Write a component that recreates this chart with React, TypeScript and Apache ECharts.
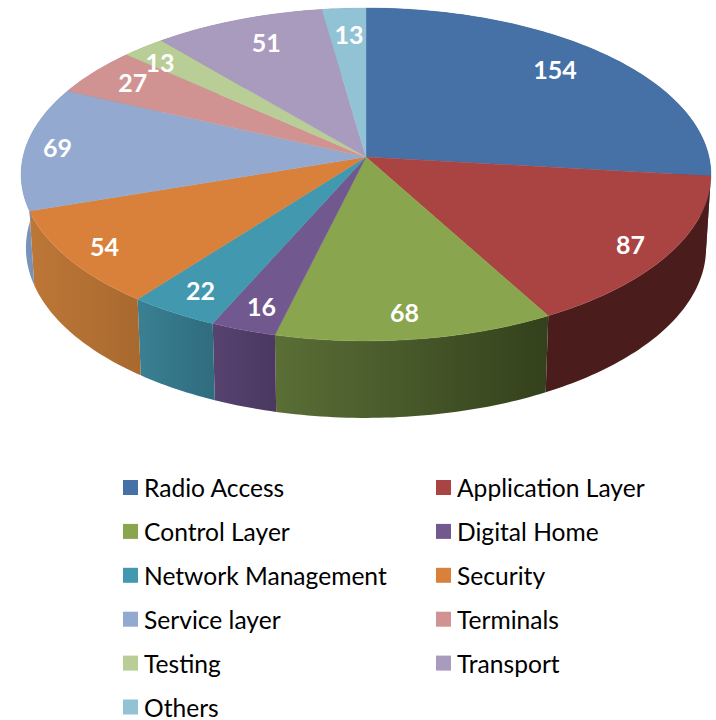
import React, { useEffect, useRef } from "react";
import * as echarts from "echarts";

const categories = ["Radio Access", "Application Layer", "Control Layer", "Digital Home", "Network Management", "Security", "Service layer", "Terminals", "Testing", "Transport", "Others"];
const values = [154, 87, 68, 16, 22, 54, 69, 27, 13, 51, 13];
const topColors = ["#4571a7", "#a94442", "#89a54e", "#71588f", "#4198af", "#d9813b", "#93a9cf", "#d19392", "#b9cd96", "#a99bbd", "#92c3d4"];
const wallFrom = ["#2f4e74", "#4a1c1b", "#5a6e36", "#574270", "#3a8093", "#bd7737", "#7a91b8", "#a57170", "#8c9c70", "#80758f", "#6f94a1"];
const wallTo = ["#2f4e74", "#4a1c1b", "#33411c", "#4a3860", "#2f6c7e", "#a8692f", "#7a91b8", "#a57170", "#8c9c70", "#80758f", "#6f94a1"];
const labelNudgeX = [-8, 6, -5, 2, 1, -7, -23, -9, -23, 5, 1];
const labelNudgeY = [-4, 4, -3, -1, -1, 2, -2, -5, -5, -3, -2];
const leftLegend = categories.filter((_, i) => i % 2 === 0);
const rightLegend = categories.filter((_, i) => i % 2 === 1);

const total = values.reduce((a, b) => a + b, 0);
const CX = 366, CY = 157, RX = 343, RY = 164.6, K = 0.105;
const DEPTH = 73, DEPTH_V = 4, BOTTOM_SCALE = 0.986;
const FONT = "Lato, Carlito, sans-serif";

function project(angle: number, r: number): [number, number] {
  const u = Math.sin(angle) * r;
  const v = -Math.cos(angle) * r;
  const s = 1 / (1 - K * v);
  return [CX + RX * u * s, CY + RY * v * s];
}
function projectBottom(angle: number): [number, number] {
  const [x, y] = project(angle, 1);
  const v = -Math.cos(angle);
  return [CX + (x - CX) * BOTTOM_SCALE, y + DEPTH + DEPTH_V * v];
}
function startOf(i: number) {
  return (values.slice(0, i).reduce((a, b) => a + b, 0) / total) * Math.PI * 2;
}
function arcAngles(a0: number, a1: number) {
  const n = Math.max(2, Math.ceil((a1 - a0) / (Math.PI / 180)));
  const out: number[] = [];
  for (let j = 0; j <= n; j++) out.push(a0 + ((a1 - a0) * j) / n);
  return out;
}

export default function App() {
  const ref = useRef<HTMLDivElement>(null);
  useEffect(() => {
    const chart = echarts.init(ref.current!, null, { renderer: "svg" });
    const wallSeries = {
      type: "custom",
      name: "walls",
      coordinateSystem: "none",
      silent: true,
      z: 1,
      data: values.map((v) => [v]),
      renderItem: (params: any, api: any) => {
        const i = params.dataIndex;
        const a0 = startOf(i);
        const a1 = a0 + (api.value(0) / total) * Math.PI * 2;
        const angles = arcAngles(a0, a1);
        const points = [...angles.map((a) => project(a, 1)), ...angles.slice().reverse().map(projectBottom)];
        return {
          type: "polygon",
          shape: { points },
          style: {
            fill: new echarts.graphic.LinearGradient(0, 0, 1, 0, [
              { offset: 0, color: wallFrom[i] },
              { offset: 1, color: wallTo[i] },
            ]),
          },
        };
      },
    };
    const topSeries = categories.map((name, i) => ({
      type: "custom",
      name,
      coordinateSystem: "none",
      silent: true,
      z: 2,
      itemStyle: { color: topColors[i] },
      data: [[values[i]]],
      renderItem: (_: any, api: any) => {
        const a0 = startOf(i);
        const a1 = a0 + (api.value(0) / total) * Math.PI * 2;
        const points = [[CX, CY], ...arcAngles(a0, a1).map((a) => project(a, 1))];
        const mid = (a0 + a1) / 2;
        const [lx, ly] = project(mid, 0.84 - 0.04 * Math.cos(mid));
        return {
          type: "group",
          children: [
            { type: "polygon", shape: { points }, style: { fill: topColors[i], stroke: topColors[i], lineWidth: 0.4 } },
            {
              type: "text",
              z2: 10,
              style: {
                text: String(api.value(0)),
                x: lx + labelNudgeX[i],
                y: ly + labelNudgeY[i],
                fill: "#ffffff",
                font: `bold 25px ${FONT}`,
                align: "center",
                verticalAlign: "middle",
              },
            },
          ],
        };
      },
    }));
    const legendBase = {
      orient: "vertical",
      icon: "rect",
      itemWidth: 15,
      itemHeight: 15,
      itemGap: 18.9,
      selectedMode: false,
      padding: 0,
      top: 475,
      height: 300,
      textStyle: { fontFamily: FONT, fontSize: 24.6, color: "#000000", padding: [0, 0, 0, 1] },
    };
    chart.setOption({
      animation: false,
      backgroundColor: "#ffffff",
      legend: [
        { ...legendBase, left: 123, data: leftLegend },
        { ...legendBase, left: 436, data: rightLegend },
      ],
      series: [wallSeries, ...topSeries],
    });
    return () => chart.dispose();
  }, []);
  return <div ref={ref} style={{ position: "fixed", left: 0, top: 0, width: 716, height: 720 }} />;
}
